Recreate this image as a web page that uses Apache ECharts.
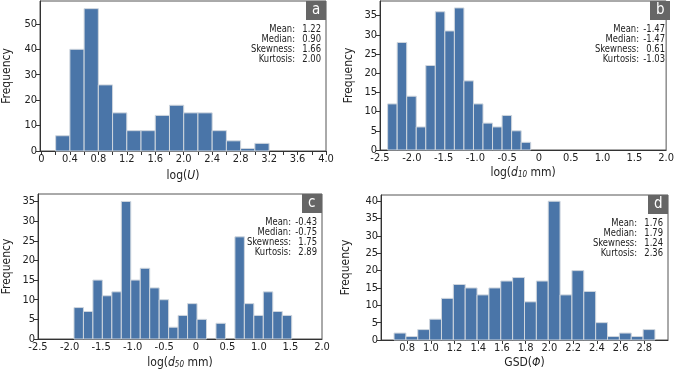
<!DOCTYPE html>
<html>
<head>
<meta charset="utf-8">
<script src="https://cdn.jsdelivr.net/npm/echarts@6/dist/echarts.min.js"></script>
<style>
  html, body { margin: 0; padding: 0; background: #fff; }
  #chart { width: 677px; height: 370px; }
</style>
</head>
<body>
<div id="chart"></div>
<script>
// histogram counts (bin start + bin width per panel)
const aStart = 0.2, aWidth = 0.2;
const aCounts = [6, 40, 56, 26, 15, 8, 8, 14, 18, 15, 15, 8, 4, 1, 3];

const bStart = -2.38, bWidth = 0.15;
const bCounts = [12, 28, 14, 6, 22, 36, 31, 37, 18, 12, 7, 6, 9, 5, 2];

const cStart = -1.93, cWidth = 0.15;
const cCounts = [8, 7, 15, 11, 12, 35, 15, 18, 13, 10, 3, 6, 9, 5, 0, 4, 0, 26, 9, 6, 12, 7, 6];

const dStart = 0.69, dWidth = 0.1;
const dCounts = [2, 1, 3, 6, 12, 16, 15, 13, 15, 17, 18, 11, 17, 40, 13, 20, 14, 5, 1, 2, 1, 3];

// tick labels
const xTicksA = [0, 0.2, 0.4, 0.6, 0.8, 1.0, 1.2, 1.4, 1.6, 1.8, 2.0, 2.2, 2.4, 2.6, 2.8, 3.0, 3.2, 3.4, 3.6, 3.8, 4.0];
const xLabelsA = [0, 0.4, 0.8, 1.2, 1.6, 2.0, 2.4, 2.8, 3.2, 3.6, 4.0];
const xLabelsBC = [-2.5, -2.0, -1.5, -1.0, -0.5, 0, 0.5, 1.0, 1.5, 2.0];
const xLabelsD = [0.8, 1.0, 1.2, 1.4, 1.6, 1.8, 2.0, 2.2, 2.4, 2.6, 2.8];
const yTicksA = [0, 10, 20, 30, 40, 50];
const yTicksB = [0, 5, 10, 15, 20, 25, 30, 35];
const yTicksC = [0, 5, 10, 15, 20, 25, 30, 35];
const yTicksD = [0, 5, 10, 15, 20, 25, 30, 35, 40];

// stats boxes
const statNames = ['Mean:', 'Median:', 'Skewness:', 'Kurtosis:'];
const statsA = ['1.22', '0.90', '1.66', '2.00'];
const statsB = ['-1.47', '-1.47', '0.61', '-1.03'];
const statsC = ['-0.43', '-0.75', '1.75', '2.89'];
const statsD = ['1.76', '1.79', '1.24', '2.36'];
const panelTags = ['a', 'b', 'c', 'd'];

const FONT = "'Liberation Sans Narrow', 'DejaVu Sans Condensed', 'Noto Sans', sans-serif";
const BAR = '#4a75a8';

const chart = echarts.init(document.getElementById('chart'));

// panel layout in px
const panels = [
  { left: 37, top: 1, width: 289, height: 150, xMin: -0.02, xMax: 4.0, yMax: 59,
    start: aStart, w: aWidth, counts: aCounts, xLabels: xLabelsA, xTicks: xTicksA, yTicks: yTicksA,
    name: 'log({i|U})', nameGap: 19, yGap: 27, stats: statsA, tickShow: true },
  { left: 380, top: 1, width: 290, height: 149, xMin: -2.5, xMax: 2.0, yMax: 38.8,
    start: bStart, w: bWidth, counts: bCounts, xLabels: xLabelsBC, xTicks: xLabelsBC, yTicks: yTicksB,
    name: 'log({i|d}{s|10} mm)', nameGap: 17, yGap: 25, stats: statsB, tickShow: false },
  { left: 33, top: 194, width: 289, height: 150, xMin: -2.5, xMax: 2.0, yMax: 36.9,
    start: cStart, w: cWidth, counts: cCounts, xLabels: xLabelsBC, xTicks: xLabelsBC, yTicks: yTicksC,
    name: 'log({i|d}{s|50} mm)', nameGap: 18, yGap: 25, stats: statsC, tickShow: false },
  { left: 381, top: 195, width: 287, height: 150, xMin: 0.58, xMax: 3.0, yMax: 41.8,
    start: dStart, w: dWidth, counts: dCounts, xLabels: xLabelsD, xTicks: xLabelsD, yTicks: yTicksD,
    name: 'GSD({i|Φ})', nameGap: 17, yGap: 29, stats: statsD, tickShow: true }
];

const fmt = v => (v === 0 ? '0' : v.toFixed(1));

const grid = [], xAxis = [], yAxis = [], series = [], graphic = [];

panels.forEach((p, k) => {
  grid.push({ left: p.left, top: p.top, width: p.width, height: p.height,
    show: true, borderColor: '#555', borderWidth: 1, backgroundColor: '#fff' });

  xAxis.push({
    gridIndex: k, type: 'value', min: p.xMin, max: p.xMax,
    splitLine: { show: false },
    axisLine: { show: true, onZero: false, lineStyle: { color: '#333', width: 1 } },
    axisTick: { show: p.tickShow, customValues: p.xTicks, length: 4, lineStyle: { color: '#333' } },
    axisLabel: { customValues: p.xLabels, formatter: fmt, color: '#222', fontSize: 11,
      fontFamily: FONT, margin: 3 },
    name: p.name, nameLocation: 'middle', nameGap: p.nameGap,
    nameTextStyle: {
      color: '#222', fontSize: 12, fontFamily: FONT,
      rich: {
        i: { fontStyle: 'italic', fontSize: 12, fontFamily: FONT, color: '#222' },
        s: { fontStyle: 'italic', fontSize: 8, fontFamily: FONT, color: '#222', verticalAlign: 'bottom', padding: [4, 0, 0, 0] }
      }
    }
  });

  yAxis.push({
    gridIndex: k, type: 'value', min: 0, max: p.yMax,
    splitLine: { show: false },
    axisLine: { show: true, onZero: false, lineStyle: { color: '#333' } },
    axisTick: { show: true, customValues: p.yTicks, length: 4, lineStyle: { color: '#333' } },
    axisLabel: { customValues: p.yTicks, color: '#222', fontSize: 11, fontFamily: FONT, margin: 3 },
    name: 'Frequency', nameLocation: 'middle', nameGap: p.yGap, nameRotate: 90,
    nameTextStyle: { color: '#222', fontSize: 12, fontFamily: FONT }
  });

  const w = p.w;
  series.push({
    type: 'custom', xAxisIndex: k, yAxisIndex: k,
    data: p.counts.map((c, i) => [p.start + i * w, c]).filter(d => d[1] > 0),
    renderItem: (params, api) => {
      const x0 = api.value(0);
      const p0 = api.coord([x0, api.value(1)]);
      const p1 = api.coord([x0 + w, 0]);
      return {
        type: 'rect',
        shape: { x: p0[0], y: p0[1], width: p1[0] - p0[0], height: p1[1] - p0[1] },
        style: { fill: BAR, stroke: '#cfd6de', lineWidth: 1 }
      };
    }
  });

  const right = p.left + p.width;
  // panel tag box
  graphic.push({ type: 'rect', left: right - 20, top: p.top, shape: { width: 20, height: 19 },
    style: { fill: '#666' } });
  graphic.push({ type: 'text', left: right - 14, top: p.top + 2,
    style: { text: panelTags[k], fill: '#fff', fontSize: 15, fontFamily: FONT } });
  // stats, squeezed a bit to look like the condensed face of the original
  statNames.forEach((s, j) => {
    graphic.push({ type: 'text', x: right - 31, y: p.top + 28 + j * 10, scaleX: 0.85,
      style: { text: s, fill: '#222', fontSize: 11, fontFamily: FONT, align: 'right', verticalAlign: 'middle' } });
    graphic.push({ type: 'text', x: right - 5, y: p.top + 28 + j * 10, scaleX: 0.85,
      style: { text: p.stats[j], fill: '#222', fontSize: 11, fontFamily: FONT, align: 'right', verticalAlign: 'middle' } });
  });
});

chart.setOption({ animation: false, grid, xAxis, yAxis, series, graphic });
</script>
</body>
</html>
